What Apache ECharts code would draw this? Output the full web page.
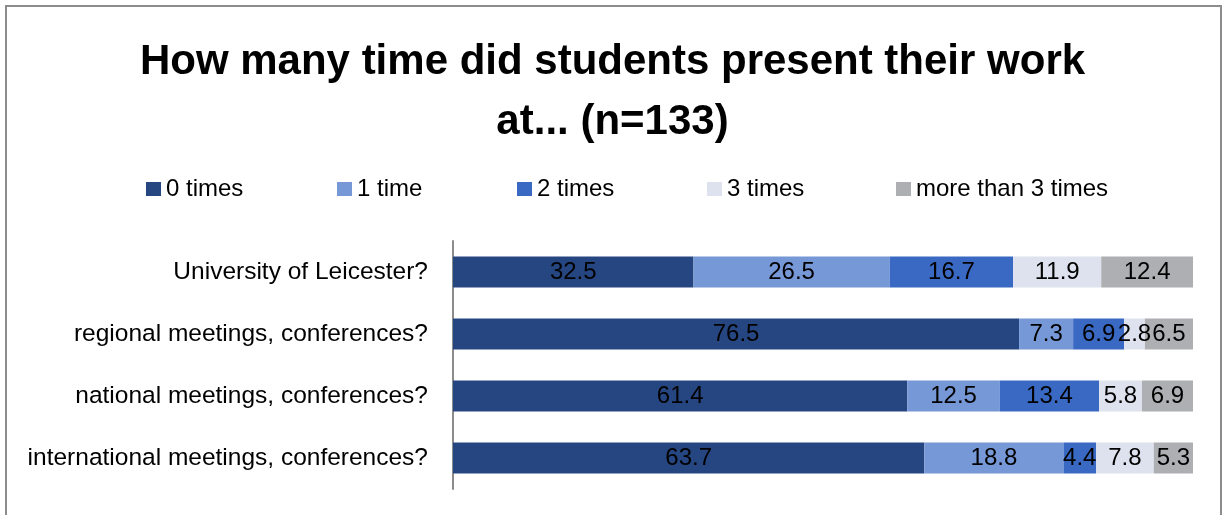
<!DOCTYPE html>
<html>
<head>
<meta charset="utf-8">
<script src="https://cdn.jsdelivr.net/npm/echarts@6/dist/echarts.min.js"></script>
<style>
html, body { margin: 0; padding: 0; background: #fff; }
#container { width: 1225px; height: 515px; }
</style>
</head>
<body>
<div id="container"></div>
<script>
var categories = ['University of Leicester?', 'regional meetings, conferences?', 'national meetings, conferences?', 'international meetings, conferences?'];
var seriesNames = ['0 times', '1 time', '2 times', '3 times', 'more than 3 times'];
var zeroTimes = [32.5, 76.5, 61.4, 63.7];
var oneTime = [26.5, 7.3, 12.5, 18.8];
var twoTimes = [16.7, 6.9, 13.4, 4.4];
var threeTimes = [11.9, 2.8, 5.8, 7.8];
var moreTimes = [12.4, 6.5, 6.9, 5.3];
var colors = ['#264682', '#7698D6', '#3A69C4', '#DEE2EE', '#ADAFB2'];

var dom = document.getElementById("container");
var myChart = echarts.init(dom);
var font = 'Liberation Sans';

var values = [zeroTimes, oneTime, twoTimes, threeTimes, moreTimes];
var legendLeft = [141, 332, 512, 702, 891];

var legends = seriesNames.map(function (name, i) {
    return {
        data: [name],
        left: legendLeft[i],
        top: 172,
        itemWidth: 15,
        itemHeight: 14,
        icon: 'rect',
        textStyle: { fontFamily: font, fontSize: 24, color: '#000' }
    };
});

var series = seriesNames.map(function (name, i) {
    return {
        name: name,
        type: 'bar',
        stack: 'total',
        barWidth: '50%',
        data: values[i],
        itemStyle: { color: colors[i] },
        label: {
            show: true,
            position: 'inside',
            color: '#000',
            fontFamily: font,
            fontSize: 24
        }
    };
});

option = {
    backgroundColor: '#fff',
    animation: false,
    title: {
        text: 'How many time did students present their work\nat... (n=133)',
        left: 'center',
        top: 27,
        textStyle: {
            fontFamily: font,
            fontWeight: 'bold',
            fontSize: 42,
            lineHeight: 60,
            color: '#000'
        }
    },
    legend: legends,
    graphic: [{
        type: 'rect',
        shape: { x: 6, y: 6, width: 1215, height: 530 },
        style: { fill: 'none', stroke: '#8c8c8c', lineWidth: 2 },
        silent: true
    }],
    grid: { left: 453, right: 32, top: 241, bottom: 26 },
    xAxis: {
        type: 'value',
        min: 0,
        max: 100,
        show: false
    },
    yAxis: {
        type: 'category',
        inverse: true,
        data: categories,
        axisLine: { lineStyle: { color: '#8c8c8c', width: 2 } },
        axisTick: { show: false },
        axisLabel: { fontFamily: font, fontSize: 24.5, color: '#000', margin: 25 }
    },
    series: series
};

myChart.setOption(option, true);
</script>
</body>
</html>
